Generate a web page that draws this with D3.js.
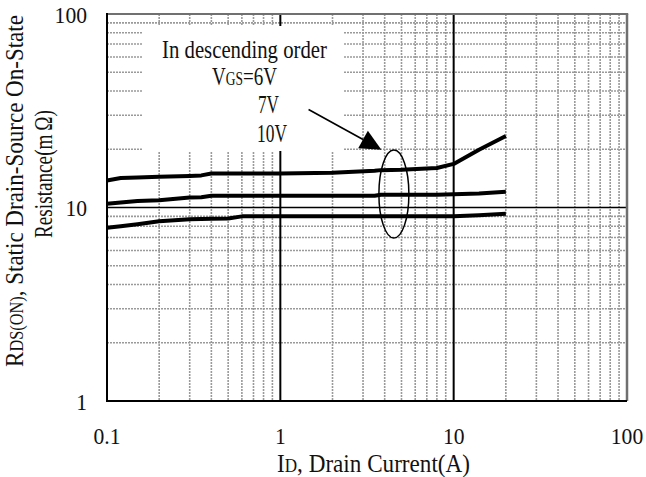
<!DOCTYPE html>
<html>
<head>
<meta charset="utf-8">
<script src="https://cdn.jsdelivr.net/npm/d3@7"></script>
<style>
  html, body { margin: 0; padding: 0; background: #fff; }
  svg { display: block; }
  text { font-family: "Liberation Serif", "DejaVu Serif", serif; fill: #111; }
</style>
</head>
<body>
<svg id="chart" width="646" height="477"></svg>
<script>
// Drain current (A) sample points shared by all three curves
const current = [0.1, 0.12, 0.15, 0.2, 0.3, 0.35, 0.4, 0.5, 0.6, 1, 2, 3.5, 3.8, 5, 8, 10, 14, 20];

// RDS(ON) in mΩ for each gate voltage
const rds6V  = [13.8, 14.2, 14.3, 14.4, 14.55, 14.65, 15.0, 15.0, 15.0, 15.0, 15.1, 15.5, 15.6, 15.65, 16.0, 16.8, 19.9, 23.4];
const rds7V  = [10.45, 10.6, 10.8, 10.9, 11.25, 11.3, 11.5, 11.5, 11.5, 11.5, 11.5, 11.5, 11.65, 11.65, 11.65, 11.7, 11.8, 12.05];
const rds10V = [7.85, 8.0, 8.2, 8.5, 8.7, 8.72, 8.75, 8.77, 9.0, 9.0, 9.0, 9.0, 9.0, 9.0, 9.0, 9.0, 9.12, 9.28];

const xTickLabels = ["0.1", "1", "10", "100"];
const yTickLabels = ["1", "10", "100"];
const legendLines = ["7V", "10V"];

// Annotation anchors in data units (current A, resistance mΩ)
const arrowTail = [1.455, 32.1];
const arrowTip  = [3.83, 19.9];
const ringCenter = [4.52, 11.74];

const svg = d3.select("#chart");
const W = 646, H = 477;
const plot = { left: 107, right: 627, top: 14, bottom: 401 };

const x = d3.scaleLog().domain([0.1, 100]).range([plot.left, plot.right]);
const y = d3.scaleLog().domain([1, 100]).range([plot.bottom, plot.top]);

svg.append("rect").attr("width", W).attr("height", H).attr("fill", "#fff");

// Narrow, slightly tall lettering: squeeze each text to the given width
const TALL = 1.06;
function fit(sel, width) {
  sel.each(function () {
    const len = this.getComputedTextLength();
    if (len > 0) d3.select(this).attr("transform", `scale(${width / len},${TALL})`);
  });
  return sel;
}

// Minor grid (dotted) and decade lines
const isDecade = v => Math.abs(Math.log10(v) - Math.round(Math.log10(v))) < 1e-9;
const xMinor = x.ticks().filter(v => !isDecade(v));
const yMinor = y.ticks().filter(v => !isDecade(v));

const grid = svg.append("g");
grid.selectAll("line.xm").data(xMinor).join("line")
  .attr("x1", d => x(d)).attr("x2", d => x(d))
  .attr("y1", plot.top).attr("y2", plot.bottom)
  .attr("stroke", "#9a9a9a").attr("stroke-width", 1.6).attr("stroke-dasharray", "2,1");
grid.selectAll("line.ym").data(yMinor).join("line")
  .attr("y1", d => y(d)).attr("y2", d => y(d))
  .attr("x1", plot.left).attr("x2", plot.right)
  .attr("stroke", "#9a9a9a").attr("stroke-width", 1.6).attr("stroke-dasharray", "2,1");

grid.selectAll("line.xM").data([1, 10]).join("line")
  .attr("x1", d => x(d)).attr("x2", d => x(d))
  .attr("y1", plot.top).attr("y2", plot.bottom)
  .attr("stroke", "#000").attr("stroke-width", 2);
grid.selectAll("line.yM").data([10]).join("line")
  .attr("y1", d => y(d)).attr("y2", d => y(d))
  .attr("x1", plot.left).attr("x2", plot.right)
  .attr("stroke", "#000").attr("stroke-width", 1.5);

// Frame: top and right in grey, axes in black
svg.append("line").attr("x1", plot.left).attr("x2", plot.right + 1.2)
  .attr("y1", plot.top).attr("y2", plot.top).attr("stroke", "#707070").attr("stroke-width", 2);
svg.append("line").attr("x1", plot.right).attr("x2", plot.right)
  .attr("y1", plot.top).attr("y2", plot.bottom).attr("stroke", "#707070").attr("stroke-width", 2.5);
svg.append("line").attr("x1", plot.left).attr("x2", plot.left)
  .attr("y1", plot.top - 1).attr("y2", plot.bottom + 1).attr("stroke", "#000").attr("stroke-width", 2);
svg.append("line").attr("x1", plot.left - 1).attr("x2", plot.right)
  .attr("y1", plot.bottom).attr("y2", plot.bottom).attr("stroke", "#000").attr("stroke-width", 2);

// Legend box (blank panel over the grid)
svg.append("rect").attr("x", 143).attr("y", 26).attr("width", 200).attr("height", 125).attr("fill", "#fff");

const legend = svg.append("g");
fit(legend.append("g").attr("transform", "translate(162,58)")
  .append("text").attr("font-size", 24).text("In descending order"), 165);
const vgs = legend.append("g").attr("transform", "translate(212,85)")
  .append("text").attr("font-size", 24);
vgs.append("tspan").text("V");
vgs.append("tspan").attr("font-size", 17).text("GS");
vgs.append("tspan").text("=6V");
fit(vgs, 65);
const legendX = [258, 257], legendY = [113, 142], legendW = [21, 30];
legendLines.forEach((t, i) => {
  fit(legend.append("g").attr("transform", `translate(${legendX[i]},${legendY[i]})`)
    .append("text").attr("font-size", 24).text(t), legendW[i]);
});

// Curves
const series = [rds6V, rds7V, rds10V];
const line = d3.line().x(d => x(d[0])).y(d => y(d[1]));
svg.append("g").selectAll("path").data(series).join("path")
  .attr("d", s => line(current.map((c, i) => [c, s[i]])))
  .attr("fill", "none").attr("stroke", "#000").attr("stroke-width", 4)
  .attr("stroke-linejoin", "round");

// Arrow and ring marking the curves
const tail = [x(arrowTail[0]), y(arrowTail[1])];
const tip = [x(arrowTip[0]), y(arrowTip[1])];
const dx = tip[0] - tail[0], dy = tip[1] - tail[1];
const L = Math.hypot(dx, dy), ux = dx / L, uy = dy / L;
const headLen = 21, headHalf = 10;
const bc = [tip[0] - headLen * ux, tip[1] - headLen * uy];
svg.append("line").attr("x1", tail[0]).attr("y1", tail[1])
  .attr("x2", bc[0]).attr("y2", bc[1]).attr("stroke", "#000").attr("stroke-width", 1.6);
svg.append("polygon")
  .attr("points", [tip, [bc[0] - headHalf * uy, bc[1] + headHalf * ux], [bc[0] + headHalf * uy, bc[1] - headHalf * ux]]
    .map(p => p.join(",")).join(" "))
  .attr("fill", "#000");
svg.append("ellipse").attr("cx", x(ringCenter[0])).attr("cy", y(ringCenter[1]))
  .attr("rx", 15).attr("ry", 44).attr("fill", "none").attr("stroke", "#000").attr("stroke-width", 1.5);

// Tick labels
const xTicks = xTickLabels.map(Number);
svg.append("g").selectAll("g").data(xTicks).join("g")
  .attr("transform", d => `translate(${x(d)},444)`)
  .append("text").attr("text-anchor", "middle").attr("font-size", 24)
  .text((d, i) => xTickLabels[i])
  .attr("transform", "scale(0.9,1)");
const yTicks = yTickLabels.map(Number);
svg.append("g").selectAll("g").data(yTicks).join("g")
  .attr("transform", d => `translate(87,${y(d) + 8.5})`)
  .append("text").attr("text-anchor", "end").attr("font-size", 24)
  .text((d, i) => yTickLabels[i])
  .attr("transform", "scale(0.9,1)");

// Axis titles
const xt = svg.append("g").attr("transform", "translate(373.5,471.5)")
  .append("text").attr("text-anchor", "middle").attr("font-size", 23);
xt.append("tspan").text("I");
xt.append("tspan").attr("font-size", 17).text("D");
xt.append("tspan").text(", Drain Current(A)");
fit(xt, 193);

const yt1 = svg.append("g").attr("transform", "translate(23,191) rotate(-90)")
  .append("text").attr("text-anchor", "middle").attr("font-size", 24);
yt1.append("tspan").text("R");
yt1.append("tspan").attr("font-size", 17).text("DS(ON)");
yt1.append("tspan").text(", Static Drain-Source On-State");
fit(yt1, 352);
fit(svg.append("g").attr("transform", "translate(52,174) rotate(-90)")
  .append("text").attr("text-anchor", "middle").attr("font-size", 24)
  .text("Resistance(m\u2009\u03A9)"), 128);
</script>
</body>
</html>
